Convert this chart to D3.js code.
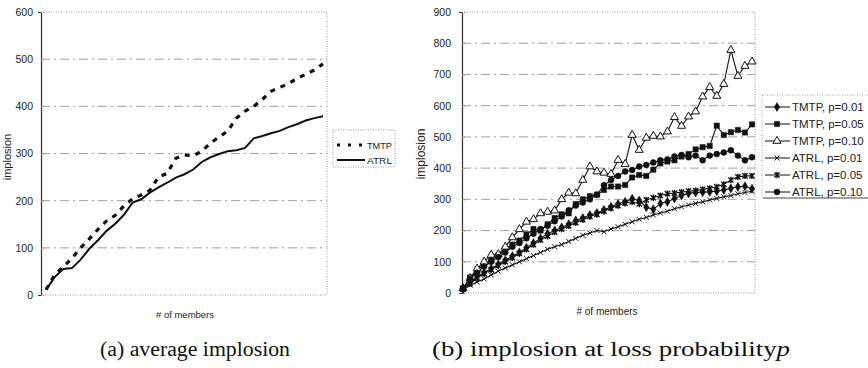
<!DOCTYPE html>
<html>
<head>
<meta charset="utf-8">
<script src="https://cdn.jsdelivr.net/npm/d3@7"></script>
<style>
  body { margin: 0; background: #fff; }
  svg text { font-family: "Liberation Sans", Arial, sans-serif; fill: #222; }
  .caption { font-family: "Liberation Serif", "DejaVu Serif", serif; font-size: 20px; fill: #111; }
</style>
</head>
<body>
<svg id="chart" width="868" height="368"></svg>
<script>
// ---- data ----
// (a) average implosion, index = member step
const avgTicks = [0, 100, 200, 300, 400, 500, 600];
const avgTMTP = [11, 43, 60, 78, 100, 119, 139, 157, 169, 189, 204, 212, 222, 250, 258, 290, 297,
  295, 305, 322, 335, 348, 375, 390, 400, 415, 432, 440, 448, 459, 468, 477, 490];
const avgATRL = [11, 38, 55, 57, 75, 98, 116, 136, 151, 170, 196, 203, 217, 228, 238, 249, 256,
  266, 282, 292, 299, 305, 307, 312, 332, 337, 343, 348, 356, 362, 370, 375, 379];

// (b) implosion at loss probability p
const lossTicks = [0, 100, 200, 300, 400, 500, 600, 700, 800, 900];
const tmtp01 = [12, 35, 52, 65, 78, 92, 105, 118, 130, 145, 160, 175, 190, 200, 210, 220, 232, 240,
  250, 256, 266, 276, 285, 292, 302, 296, 275, 268, 287, 292, 303, 312, 319, 322, 323, 324, 326,
  330, 335, 340, 342, 334];
const tmtp05 = [15, 50, 72, 92, 106, 120, 140, 155, 168, 188, 205, 200, 220, 240, 252, 255, 285, 300,
  310, 315, 330, 341, 341, 346, 370, 378, 375, 395, 415, 421, 425, 437, 445, 460, 467, 471, 536,
  506, 515, 522, 514, 540];
const tmtp10 = [15, 47, 78, 100, 122, 124, 148, 178, 204, 228, 236, 255, 260, 264, 300, 321, 319,
  362, 405, 389, 385, 381, 426, 413, 506, 458, 497, 503, 501, 517, 563, 535, 565, 581, 629, 659,
  631, 669, 778, 695, 727, 741];
const atrl01 = [12, 25, 35, 45, 58, 70, 80, 90, 100, 110, 120, 130, 140, 148, 155, 165, 175, 185,
  192, 200, 196, 205, 212, 220, 228, 236, 242, 250, 256, 262, 270, 276, 282, 287, 292, 298, 303,
  308, 312, 318, 322, 326];
const atrl05 = [12, 30, 48, 62, 75, 88, 100, 113, 127, 140, 155, 170, 182, 195, 205, 215, 225, 235,
  245, 252, 262, 272, 280, 288, 292, 285, 298, 305, 312, 318, 320, 323, 326, 328, 332, 335, 340,
  348, 362, 372, 375, 375];
const atrl10 = [15, 45, 65, 85, 100, 115, 130, 148, 160, 175, 190, 205, 215, 230, 245, 265, 280, 290,
  300, 315, 345, 362, 375, 389, 394, 405, 410, 418, 425, 428, 437, 442, 435, 440, 425, 440, 445,
  450, 457, 440, 425, 435];

const avgSeries = [
  { name: 'TMTP', values: avgTMTP, dash: '5,6', width: 3.2 },
  { name: 'ATRL', values: avgATRL, dash: null, width: 2 },
];
const lossSeries = [
  { name: 'TMTP, p=0.01', values: tmtp01, mark: 'diamond' },
  { name: 'TMTP, p=0.05', values: tmtp05, mark: 'square' },
  { name: 'TMTP, p=0.10', values: tmtp10, mark: 'triangle' },
  { name: 'ATRL, p=0.01', values: atrl01, mark: 'cross' },
  { name: 'ATRL, p=0.05', values: atrl05, mark: 'star' },
  { name: 'ATRL, p=0.10', values: atrl10, mark: 'circle' },
];

const svg = d3.select('#chart');

// panel layout
const cs = {
  grid: { stroke: '#8a8a8a', dash: '9,4,2,4' },
  border: { stroke: '#999', dash: '1,1.5' },
  a: { left: 41, right: 327, top: 12, bottom: 295, xPad: [5, 4], max: 600 },
  b: { left: 462, right: 755, top: 12, bottom: 293, xPad: [1, 3], max: 900 },
};

const drawFrame = (p, ticks, yScale, labelPad) => {
  const g = svg.append('g');
  // grid lines
  g.selectAll('line.grid').data(ticks.slice(1, -1)).enter().append('line')
    .attr('x1', p.left).attr('x2', p.right)
    .attr('y1', d => yScale(d)).attr('y2', d => yScale(d))
    .attr('stroke', cs.grid.stroke).attr('stroke-width', 0.8)
    .attr('stroke-dasharray', cs.grid.dash);
  // dotted border top/right/bottom
  g.append('path')
    .attr('d', `M${p.left},${p.top}H${p.right}V${p.bottom}H${p.left}`)
    .attr('fill', 'none').attr('stroke', cs.border.stroke)
    .attr('stroke-dasharray', cs.border.dash);
  // y axis
  const axis = d3.axisLeft(yScale).tickValues(ticks).tickSize(3).tickPadding(labelPad);
  const ax = g.append('g').attr('transform', `translate(${p.left},0)`).call(axis);
  ax.select('.domain').attr('stroke', '#333').attr('stroke-width', 1.2);
  ax.selectAll('.tick line').attr('stroke', '#888').attr('x2', 3).attr('stroke-dasharray', '1,1');
  ax.selectAll('.tick text').attr('font-size', 10.5).attr('fill', '#222')
    .attr('font-family', '"Liberation Sans", Arial, sans-serif');
  return g;
};

// ---------- panel (a) ----------
const xA = d3.scaleLinear().domain([0, avgTMTP.length - 1])
  .range([cs.a.left + cs.a.xPad[0], cs.a.right - cs.a.xPad[1]]);
const yA = d3.scaleLinear().domain([0, cs.a.max]).range([cs.a.bottom, cs.a.top]);
drawFrame(cs.a, avgTicks, yA, 5);

const lineA = d3.line().x((d, i) => xA(i)).y(d => yA(d));
svg.append('g').selectAll('path').data(avgSeries).enter().append('path')
  .attr('d', d => lineA(d.values))
  .attr('fill', 'none').attr('stroke', '#111')
  .attr('stroke-width', d => d.width)
  .attr('stroke-dasharray', d => d.dash);

svg.append('text').attr('transform', 'translate(11,157) rotate(-90)')
  .attr('text-anchor', 'middle').attr('font-size', 11).text('implosion');
svg.append('text').attr('x', 185).attr('y', 318)
  .attr('text-anchor', 'middle').attr('font-size', 9.5).text('# of members');

// legend (a)
const legA = svg.append('g');
legA.append('rect').attr('x', 333).attr('y', 130).attr('width', 62).attr('height', 37)
  .attr('fill', '#fff').attr('stroke', '#999').attr('stroke-dasharray', '1,1.5');
avgSeries.forEach((s, i) => {
  const y = 145 + i * 15;
  legA.append('line').attr('x1', 337).attr('x2', 365).attr('y1', y).attr('y2', y)
    .attr('stroke', '#111').attr('stroke-width', s.width).attr('stroke-dasharray', s.dash ? '3,8' : null);
  legA.append('text').attr('x', 367).attr('y', y + 3.5)
    .attr('font-size', 9.5).attr('textLength', 25).attr('lengthAdjust', 'spacingAndGlyphs').text(s.name);
});

// ---------- panel (b) ----------
const xB = d3.scaleLinear().domain([0, tmtp01.length - 1])
  .range([cs.b.left + cs.b.xPad[0], cs.b.right - cs.b.xPad[1]]);
const yB = d3.scaleLinear().domain([0, cs.b.max]).range([cs.b.bottom, cs.b.top]);
drawFrame(cs.b, lossTicks, yB, 8);

const symbols = {
  diamond: d3.symbol(d3.symbolDiamond, 24),
  square: d3.symbol(d3.symbolSquare, 28),
  triangle: d3.symbol(d3.symbolTriangle, 28),
  circle: d3.symbol(d3.symbolCircle, 28),
};
const drawMark = (g, mark, x, y) => {
  if (mark === 'star') {
    g.append('path').attr('d', `M${x - 2.6},${y - 2.6}L${x + 2.6},${y + 2.6}M${x - 2.6},${y + 2.6}L${x + 2.6},${y - 2.6}M${x},${y - 3.2}V${y + 3.2}`)
      .attr('stroke', '#111').attr('stroke-width', 1.4).attr('fill', 'none');
    return;
  }
  if (mark === 'cross') {
    g.append('path').attr('d', `M${x - 2.5},${y - 2.5}L${x + 2.5},${y + 2.5}M${x - 2.5},${y + 2.5}L${x + 2.5},${y - 2.5}`)
      .attr('stroke', '#111').attr('stroke-width', 1).attr('fill', 'none');
    return;
  }
  g.append('path').attr('d', symbols[mark]())
    .attr('transform', `translate(${x},${y})`)
    .attr('fill', mark === 'triangle' ? '#fff' : '#111')
    .attr('stroke', '#111').attr('stroke-width', mark === 'triangle' ? 1 : 0.5);
};

const lineB = d3.line().x((d, i) => xB(i)).y(d => yB(d));
const plotB = svg.append('g');
lossSeries.forEach(s => {
  plotB.append('path').attr('d', lineB(s.values))
    .attr('fill', 'none').attr('stroke', '#111').attr('stroke-width', 1.1);
});
lossSeries.forEach(s => {
  s.values.forEach((v, i) => drawMark(plotB, s.mark, xB(i), yB(v)));
});

svg.append('text').attr('transform', 'translate(425,154) rotate(-90)')
  .attr('text-anchor', 'middle').attr('font-size', 12).text('implosion');
svg.append('text').attr('x', 607).attr('y', 315)
  .attr('text-anchor', 'middle').attr('font-size', 10).text('# of members');

// legend (b)
const legB = svg.append('g');
legB.append('rect').attr('x', 762).attr('y', 95).attr('width', 110).attr('height', 103)
  .attr('fill', '#fff').attr('stroke', '#aaa').attr('stroke-dasharray', '1,1.5');
legB.append('line').attr('x1', 763).attr('x2', 868).attr('y1', 198).attr('y2', 198)
  .attr('stroke', '#555');
lossSeries.forEach((s, i) => {
  const y = 107 + i * 17;
  legB.append('line').attr('x1', 765).attr('x2', 790).attr('y1', y).attr('y2', y)
    .attr('stroke', '#111').attr('stroke-width', 1);
  drawMark(legB, s.mark, 777, y);
  legB.append('text').attr('x', 792).attr('y', y + 4)
    .attr('font-size', 11.5).text(s.name);
});

// captions
svg.append('text').attr('class', 'caption').attr('x', 100).attr('y', 356)
  .attr('textLength', 190).attr('lengthAdjust', 'spacingAndGlyphs').text('(a) average implosion');
const capB = svg.append('text').attr('class', 'caption').attr('x', 432).attr('y', 356)
  .attr('textLength', 358).attr('lengthAdjust', 'spacingAndGlyphs');
capB.append('tspan').text('(b) implosion at loss probability');
capB.append('tspan').attr('font-style', 'italic').text('p');
</script>
</body>
</html>
